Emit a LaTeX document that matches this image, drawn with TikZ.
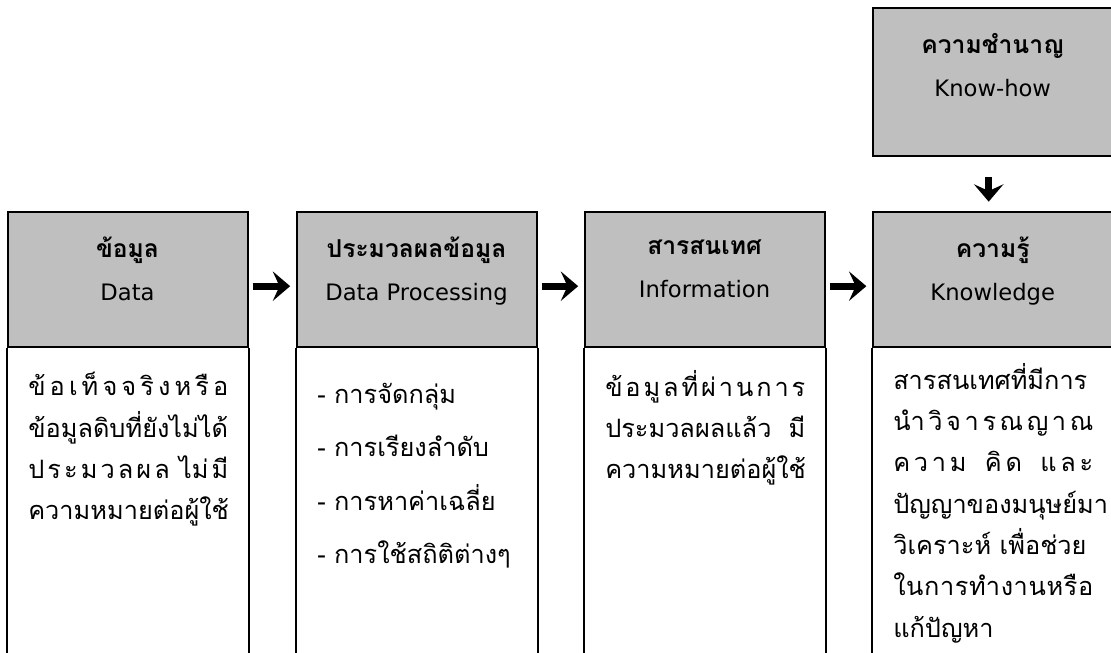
\documentclass[tikz,border=0pt]{standalone}
\usepackage{fontspec}
\setmainfont[Script=Thai]{Loma}
\newfontfamily\engfont{DejaVu Sans}
\usetikzlibrary{positioning,arrows.meta}
\definecolor{headgray}{RGB}{191,191,191}

% one line of Thai text spread to the full width
\newcommand{\fillline}[1]{\makebox[150pt][s]{\spaceskip=0pt plus 1fil\relax #1}}
% english line of a head
\newcommand{\eng}[1]{{\engfont\fontsize{17}{32}\selectfont #1}}

\tikzset{
  boxline/.style={line width=1.5pt},
  colhead/.style={boxline, draw, fill=headgray, minimum width=180pt, minimum height=101.25pt,
    align=center, inner sep=0pt, font=\fontsize{18.5}{32}\selectfont, text depth=16pt},
  coltext/.style={anchor=north west, text width=150pt, inner sep=0pt, align=left,
    font=\fontsize{19}{31}\selectfont},
  flowarrow/.style={line width=5.5pt, -{Stealth[length=13pt,width=22pt,inset=5pt]}}
}

\begin{document}
\begin{tikzpicture}[x=0.75pt,y=-0.75pt]
\useasboundingbox (0,0) rectangle (1111,653);
\clip (0,0) rectangle (1111,653);

% know-how box on top
\node[colhead, minimum height=111pt, text depth=26pt] (knowhow) at (992.7,82)
  {\textbf{ความชำนาญ}\\\eng{Know-how}};

% column heads
\node[colhead] (datahead) at (127.5,279.5) {\textbf{ข้อมูล}\\\eng{Data}};
\node[colhead] (prochead) at (416.5,279.5) {\textbf{ประมวลผลข้อมูล}\\\eng{Data Processing}};
\node[colhead] (infohead) at (704.5,279.5) {\textbf{สารสนเทศ}\\\eng{Information}};
\node[colhead] (knowhead) at (992.7,279.5) {\textbf{ความรู้}\\\eng{Knowledge}};

% column bodies, open at the bottom
\foreach \h in {datahead,prochead,infohead,knowhead}
  \draw[boxline] (\h.south west) -- ++(0,320) (\h.south east) -- ++(0,320);

% body texts
\node[coltext] (datatext) at (28,372) {%
  \fillline{ข้ อ เ ท็ จ จ ริ ง ห รื อ}\\
  ข้อมูลดิบที่ยังไม่ได้\\
  \fillline{ป ร ะ ม ว ล ผ ล ~ ไม่ มี}\\
  ความหมายต่อผู้ใช้};
\node[coltext, font=\fontsize{19}{40}\selectfont] (proctext) at (317,383) {%
  - การจัดกลุ่ม\\
  - การเรียงลำดับ\\
  - การหาค่าเฉลี่ย\\
  - การใช้สถิติต่างๆ};
\node[coltext] (infotext) at (605,370) {%
  \fillline{ข้ อ มู ล ที่ ผ่ า น ก า ร}\\
  \fillline{ประมวลผลแล้ว มี}\\
  ความหมายต่อผู้ใช้};
\node[coltext] (knowtext) at (893,363) {%
  \fillline{สารสนเทศที่มีการ}\\
  \fillline{นำ วิ จ า ร ณ ญ า ณ}\\
  \fillline{ค ว า ม ~ ~ คิ ด ~ ~ แ ล ะ}\\
  ปัญญาของมนุษย์มา\\
  วิเคราะห์ เพื่อช่วย\\
  \fillline{ใ น ก า ร ทำ ง า น ห รื อ}\\
  แก้ปัญหา};

% arrows
\draw[flowarrow, shorten <=3pt, shorten >=4pt] ([yshift=-5pt]datahead.east) -- ([yshift=-5pt]prochead.west);
\draw[flowarrow, shorten <=3pt, shorten >=4pt] ([yshift=-5pt]prochead.east) -- ([yshift=-5pt]infohead.west);
\draw[flowarrow, shorten <=3pt, shorten >=4pt] ([yshift=-5pt]infohead.east) -- ([yshift=-5pt]knowhead.west);
\draw[flowarrow, shorten <=15pt, shorten >=7pt] ([xshift=-3pt]knowhow.south) -- ([xshift=-3pt]knowhead.north);
\end{tikzpicture}
\end{document}
